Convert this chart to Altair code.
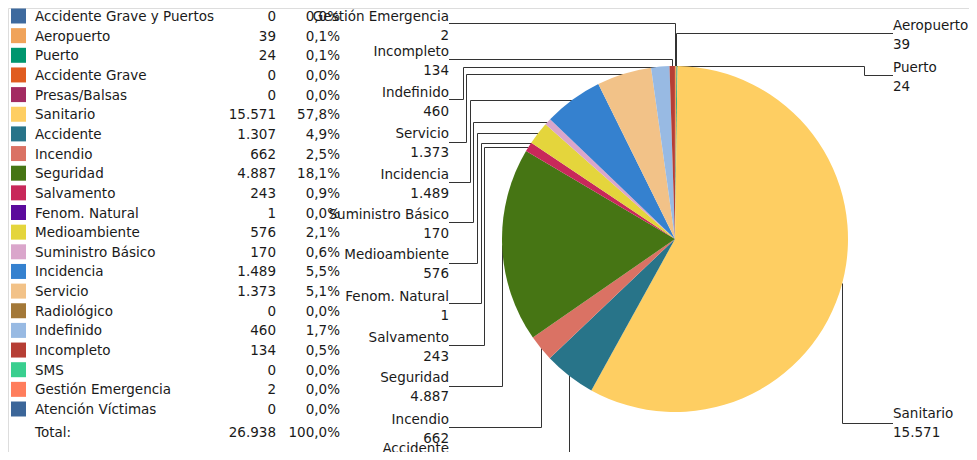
import math
import altair as alt
import pandas as pd

# ---------------- data ----------------
categories = [
    "Accidente Grave y Puertos", "Aeropuerto", "Puerto", "Accidente Grave",
    "Presas/Balsas", "Sanitario", "Accidente", "Incendio", "Seguridad",
    "Salvamento", "Fenom. Natural", "Medioambiente", "Suministro Básico",
    "Incidencia", "Servicio", "Radiológico", "Indefinido", "Incompleto",
    "SMS", "Gestión Emergencia", "Atención Víctimas",
]
values = [0, 39, 24, 0, 0, 15571, 1307, 662, 4887, 243, 1, 576, 170,
          1489, 1373, 0, 460, 134, 0, 2, 0]
colors = [
    "#3E6A9E", "#F0A35A", "#00966E", "#E05C20", "#A32B62", "#FECE62",
    "#287489", "#DA7264", "#467514", "#C8285A", "#5B0A9C", "#E4D53C",
    "#DAA6CB", "#3581CF", "#F2C288", "#A37838", "#98BAE3", "#B63E35",
    "#39CF8F", "#FF7D5C", "#3C6699",
]
total_label = "Total:"

# ---------------- layout (page pixel coordinates) ----------------
W, H = 961, 444
OFF = 8
PIE_CX, PIE_CY, PIE_R = 675, 239, 173
ROW0, ROW_STEP, TOTAL_Y = 16, 19.65, 432
SW_X, NAME_X, VAL_X, PCT_X = 18.5, 35, 276, 340
LEFT_X, RIGHT_X = 449, 893
LINE2 = 19
TEXT_DY = 1
FONT = "DejaVu Sans"
FS = 13.5
TXT = "#1a1a1a"

# callout slots: category, side, name-line y, leader y, elbow x (None = straight)
callout_cats = ["Gestión Emergencia", "Incompleto", "Indefinido", "Servicio",
                "Incidencia", "Suministro Básico", "Medioambiente",
                "Fenom. Natural", "Salvamento", "Seguridad", "Incendio",
                "Accidente", "Aeropuerto", "Puerto", "Sanitario"]
callout_side = ["L"] * 12 + ["R"] * 3
callout_name_y = [16, 51, 92, 133, 174, 214, 254, 296, 337, 377, 419, 448, 25, 67, 413]
callout_line_y = [23, 59, 99, 142, 182, 222, 263, 303, 345, 386, 427, 468, 33, 75, 423]
callout_elbow = [None, None, 463, 466, 470, 473, 477, 481, 484, None, None, None,
                 None, 864, None]

# ---------------- derived ----------------
total = sum(values)


def fmt_int(v):
    return f"{v:,}".replace(",", ".")


def fmt_pct(v):
    return f"{v / total * 100:.1f}".replace(".", ",") + "%"


rows = []
for i, (c, v) in enumerate(zip(categories, values)):
    rows.append(dict(category=c, name=c, val=fmt_int(v), pct=fmt_pct(v),
                     y=ROW0 + ROW_STEP * i - OFF, sx=SW_X - OFF))
legend_df = pd.DataFrame(rows)
total_df = pd.DataFrame([dict(name=total_label, val=fmt_int(total),
                              pct="100,0%", y=TOTAL_Y - OFF)])

pie_df = pd.DataFrame([dict(category=c, value=v, idx=i)
                       for i, (c, v) in enumerate(zip(categories, values)) if v > 0])

anchors = {}
cum = 0
for c, v in zip(categories, values):
    start = cum
    cum += v
    if v > 0:
        a = (start + v / 2) / total * 2 * math.pi
        anchors[c] = (PIE_CX + PIE_R * math.sin(a), PIE_CY - PIE_R * math.cos(a))

segs = []
labs = []
for c, side, ny, ly, ex in zip(callout_cats, callout_side, callout_name_y,
                               callout_line_y, callout_elbow):
    ax, ay = anchors[c]
    lx = LEFT_X if side == "L" else RIGHT_X
    sx = round(ax) + 0.5
    sy = round(ay) + 0.5
    lyy = ly + 0.5
    if ex is None:
        segs.append((sx, ay, sx, lyy))
        segs.append((sx, lyy, lx, lyy))
    else:
        e = ex + 0.5
        segs.append((ax, sy, e, sy))
        segs.append((e, sy, e, lyy))
        segs.append((e, lyy, lx, lyy))
    v = values[categories.index(c)]
    labs.append(dict(side=side, x=lx - OFF, y=ny - OFF, t=c))
    labs.append(dict(side=side, x=lx - OFF, y=ny + LINE2 - OFF, t=fmt_int(v)))

seg_df = pd.DataFrame([dict(x=a - OFF, y=b - OFF, x2=c - OFF, y2=d - OFF)
                       for a, b, c, d in segs])
lab_df = pd.DataFrame(labs)

# ---------------- chart ----------------
xs = alt.Scale(domain=[0, W], nice=False, zero=False)
ys = alt.Scale(domain=[0, H], nice=False, zero=False, reverse=True)
cscale = alt.Scale(domain=categories, range=colors)

pie = alt.Chart(pie_df).mark_arc(radius=PIE_R, stroke=None).encode(
    theta=alt.Theta("value:Q", stack=True),
    color=alt.Color("category:N", scale=cscale, legend=None),
    order=alt.Order("idx:Q", sort="ascending"),
    x=alt.value(PIE_CX - OFF),
    y=alt.value(PIE_CY - OFF),
)

lines = alt.Chart(seg_df).mark_rule(color="#333333", strokeWidth=1).encode(
    x=alt.X("x:Q", scale=xs, axis=None),
    y=alt.Y("y:Q", scale=ys, axis=None),
    x2="x2:Q",
    y2="y2:Q",
)

swatches = alt.Chart(legend_df).mark_square(size=225, opacity=1).encode(
    x=alt.X("sx:Q", scale=xs, axis=None),
    y=alt.Y("y:Q", scale=ys, axis=None),
    color=alt.Color("category:N", scale=cscale, legend=None),
)


def text_layer(df, field, xpos, align):
    return alt.Chart(df).mark_text(
        align=align, baseline="middle", font=FONT, fontSize=FS, color=TXT,
        dy=TEXT_DY,
    ).encode(
        x=alt.value(xpos - OFF),
        y=alt.Y("y:Q", scale=ys, axis=None),
        text=f"{field}:N",
    )


leg_names = text_layer(legend_df, "name", NAME_X, "left")
leg_vals = text_layer(legend_df, "val", VAL_X, "right")
leg_pcts = text_layer(legend_df, "pct", PCT_X, "right")
tot_names = text_layer(total_df, "name", NAME_X, "left")
tot_vals = text_layer(total_df, "val", VAL_X, "right")
tot_pcts = text_layer(total_df, "pct", PCT_X, "right")

left_labs = alt.Chart(lab_df[lab_df.side == "L"]).mark_text(
    align="right", baseline="middle", font=FONT, fontSize=FS, color=TXT,
    dy=TEXT_DY,
).encode(
    x=alt.X("x:Q", scale=xs, axis=None),
    y=alt.Y("y:Q", scale=ys, axis=None),
    text="t:N",
)
right_labs = alt.Chart(lab_df[lab_df.side == "R"]).mark_text(
    align="left", baseline="middle", font=FONT, fontSize=FS, color=TXT,
    dy=TEXT_DY,
).encode(
    x=alt.X("x:Q", scale=xs, axis=None),
    y=alt.Y("y:Q", scale=ys, axis=None),
    text="t:N",
)

chart = alt.layer(
    lines, pie, swatches, leg_names, leg_vals, leg_pcts,
    tot_names, tot_vals, tot_pcts, left_labs, right_labs,
).properties(
    width=W, height=H, padding=0,
    autosize=alt.AutoSizeParams(type="none"),
).configure_view(stroke=None).configure(font=FONT)

chart.save("out.html", embed_options={"renderer": "svg", "actions": False})
